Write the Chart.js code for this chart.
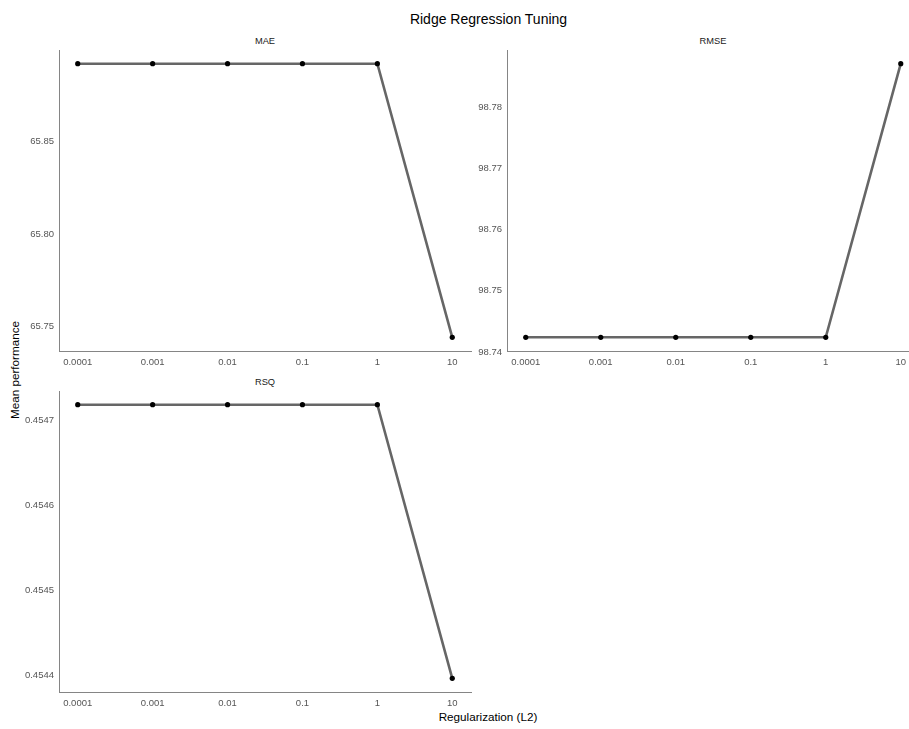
<!DOCTYPE html>
<html><head><meta charset="utf-8">
<script src="https://cdn.jsdelivr.net/npm/chart.js@4.4.1/dist/chart.umd.min.js"></script>
<style>
html,body{margin:0;padding:0;background:#fff;overflow:hidden;width:909px;height:729px;}
body{position:relative;font-family:"Liberation Sans",Arial,sans-serif;}
canvas{position:absolute;}
.t{position:absolute;white-space:nowrap;transform:translate(-50%,-50%);line-height:1;}
</style></head><body>
<div class="t" style="left:488.5px;top:18.5px;font-size:14px;color:#000">Ridge Regression Tuning</div>
<div class="t" style="left:265px;top:41.5px;font-size:9.3px;color:#1a1a1a">MAE</div>
<div class="t" style="left:713px;top:41.5px;font-size:9.3px;color:#1a1a1a">RMSE</div>
<div class="t" style="left:265px;top:382.5px;font-size:9.3px;color:#1a1a1a">RSQ</div>
<div class="t" style="left:15px;top:370px;font-size:11.7px;color:#000;transform:translate(-50%,-50%) rotate(-90deg)">Mean performance</div>
<div class="t" style="left:488px;top:716.5px;font-size:11.7px;color:#000">Regularization (L2)</div>
<canvas id="mae" width="480" height="331" style="left:0px;top:45px"></canvas>
<canvas id="rmse" width="481" height="331" style="left:447px;top:45px"></canvas>
<canvas id="rsq" width="480" height="331" style="left:0px;top:386px"></canvas>
<script>
const penalties = [0.0001, 0.001, 0.01, 0.1, 1, 10];
const xLabels = ["0.0001", "0.001", "0.01", "0.1", "1", "10"];
const maeValues = [65.8919, 65.8919, 65.8919, 65.8919, 65.8919, 65.7443];
const rmseValues = [98.7424, 98.7424, 98.7424, 98.7424, 98.7424, 98.7871];
const rsqValues = [0.454718, 0.454718, 0.454718, 0.454718, 0.454718, 0.454397];
const maeTicks = [65.75, 65.80, 65.85];
const maeTickLabels = ["65.75", "65.80", "65.85"];
const rmseTicks = [98.74, 98.75, 98.76, 98.77, 98.78];
const rmseTickLabels = ["98.74", "98.75", "98.76", "98.77", "98.78"];
const rsqTicks = [0.4544, 0.4545, 0.4546, 0.4547];
const rsqTickLabels = ["0.4544", "0.4545", "0.4546", "0.4547"];

const FONT = "'Liberation Sans', Arial, sans-serif";

function makePanel(id, values, yTicks, yTickLabels, yAxisWidth, padRight) {
  const lo = Math.min(...values), hi = Math.max(...values);
  const span = hi - lo;
  const xMinLog = Math.log10(penalties[0]), xMaxLog = Math.log10(penalties[penalties.length - 1]);
  const xSpan = xMaxLog - xMinLog;
  new Chart(document.getElementById(id), {
    type: 'line',
    data: {
      datasets: [{
        data: penalties.map((p, i) => ({x: p, y: values[i]})),
        borderColor: '#666666',
        borderWidth: 2.6,
        pointRadius: 2.6,
        pointBackgroundColor: '#000',
        pointBorderColor: '#000',
        pointBorderWidth: 0,
        tension: 0,
        fill: false,
        clip: false
      }]
    },
    options: {
      responsive: false,
      maintainAspectRatio: false,
      animation: false,
      devicePixelRatio: 1,
      layout: {padding: {top: 5, right: padRight, left: 0, bottom: 0}},
      plugins: {legend: {display: false}, tooltip: {enabled: false}, title: {display: false}},
      scales: {
        x: {
          type: 'logarithmic',
          min: Math.pow(10, xMinLog - 0.05 * xSpan),
          max: Math.pow(10, xMaxLog + 0.05 * xSpan),
          grid: {display: false, drawTicks: false},
          border: {display: true, color: '#858585', width: 1},
          afterBuildTicks: s => { s.ticks = penalties.map(v => ({value: v})); },
          afterFit: s => { s.height = 25; s.paddingLeft = 0; s.paddingRight = 0; },
          ticks: {
            autoSkip: false, maxRotation: 0, minRotation: 0, padding: 6,
            color: '#555555', font: {family: FONT, size: 9.5},
            callback: (v, i) => xLabels[i]
          }
        },
        y: {
          type: 'linear',
          min: lo - 0.05 * span,
          max: hi + 0.05 * span,
          grid: {display: false, drawTicks: false},
          border: {display: true, color: '#858585', width: 1},
          afterBuildTicks: s => { s.ticks = yTicks.map(v => ({value: v})); },
          afterFit: s => { s.width = yAxisWidth; s.paddingTop = 0; s.paddingBottom = 0; },
          ticks: {
            autoSkip: false, padding: 5,
            color: '#555555', font: {family: FONT, size: 9.5},
            callback: (v, i) => yTickLabels[i]
          }
        }
      }
    }
  });
}

makePanel('mae', maeValues, maeTicks, maeTickLabels, 59, 9);
makePanel('rmse', rmseValues, rmseTicks, rmseTickLabels, 60, 8.5);
makePanel('rsq', rsqValues, rsqTicks, rsqTickLabels, 59, 9);
</script>
</body></html>
